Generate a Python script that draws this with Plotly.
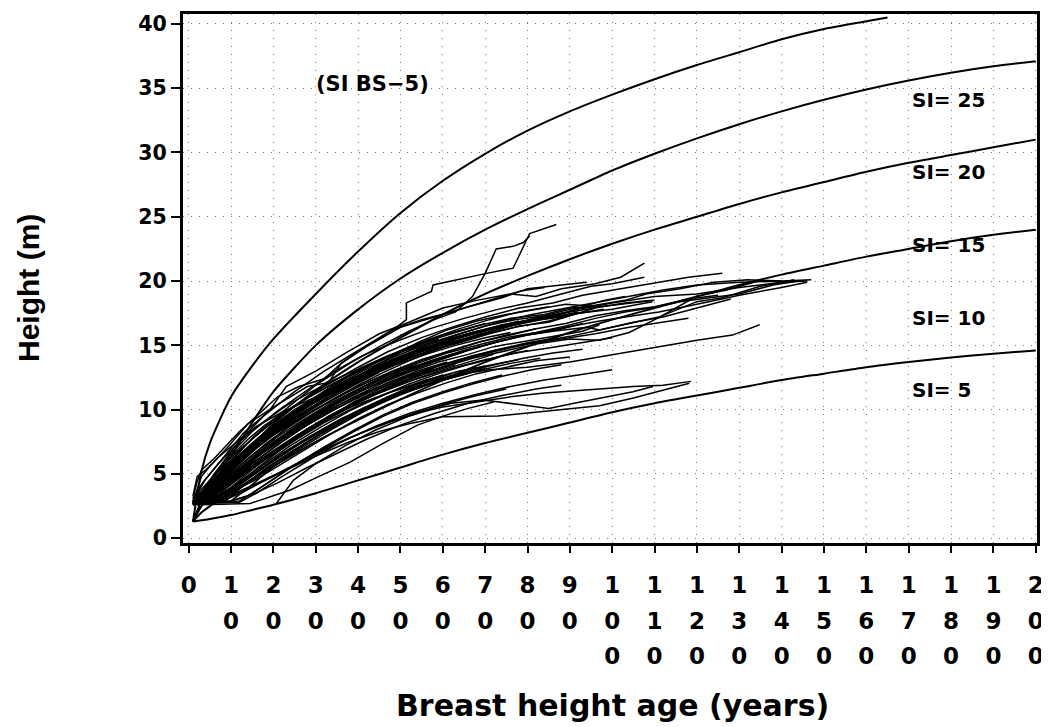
import plotly.graph_objects as go

# ---------------- data ----------------
si_age = [1, 3, 5, 10, 15, 20, 30, 40, 50, 60, 70, 80, 90, 100, 110, 120, 130, 140, 150, 160, 170, 180, 190, 200]
si5_h = [1.3, 1.4, 1.5, 1.8, 2.2, 2.6, 3.5, 4.5, 5.5, 6.5, 7.4, 8.2, 9.0, 9.8, 10.5, 11.1, 11.7, 12.3, 12.8, 13.3, 13.7, 14.05, 14.35, 14.6]
si10_h = [1.3, 2.0, 2.5, 3.6, 4.6, 5.6, 7.5, 9.2, 10.8, 12.3, 13.7, 14.9, 16.0, 17.0, 17.9, 18.8, 19.7, 20.5, 21.2, 21.9, 22.5, 23.1, 23.6, 24.0]
si15_h = [1.3, 2.5, 3.4, 5.4, 7.2, 8.9, 11.5, 13.7, 15.6, 17.4, 19.0, 20.4, 21.7, 22.9, 24.0, 25.0, 26.0, 26.9, 27.7, 28.5, 29.2, 29.8, 30.4, 31.0]
si20_h = [1.3, 2.9, 4.0, 6.4, 9.0, 11.4, 15.0, 17.8, 20.2, 22.2, 24.0, 25.6, 27.1, 28.6, 29.9, 31.1, 32.2, 33.2, 34.1, 34.9, 35.6, 36.2, 36.7, 37.1]
si25_age = [1, 3, 5, 10, 15, 20, 30, 40, 50, 60, 70, 80, 90, 100, 110, 120, 130, 140, 150, 160, 165]
si25_h = [1.3, 5.2, 7.4, 11.0, 13.4, 15.5, 19.0, 22.3, 25.3, 27.8, 29.9, 31.7, 33.2, 34.5, 35.7, 36.8, 37.8, 38.8, 39.6, 40.2, 40.5]

si_labels = ["SI= 25", "SI= 20", "SI= 15", "SI= 10", "SI= 5"]
si_label_y = [34.1, 28.45, 22.8, 17.1, 11.5]
si_label_x = 170.4

x_tick_vals = [0, 10, 20, 30, 40, 50, 60, 70, 80, 90, 100, 110, 120, 130, 140, 150, 160, 170, 180, 190, 200]
x_tick_labels = ["0", "10", "20", "30", "40", "50", "60", "70", "80", "90", "100",
                 "110", "120", "130", "140", "150", "160", "170", "180", "190", "200"]
y_tick_vals = [0, 5, 10, 15, 20, 25, 30, 35, 40]

# stem analysis trees: (breast height age, height)
tree01 = [(1,3.1),(2,4.4),(3,5.3),(6,6.2),(8,6.9),(12,8.3),(16,9.5),(21,11.0),(26,11.8),(32,12.4),(36,13.6),(42,15.0),(48,16.2),(55,17.0),(62,17.6),(70,18.4),(78,19.2),(84,19.5)]
tree02 = [(1,2.8),(3,4.8),(5,5.6),(9,7.0),(14,8.9),(20,10.2),(28,11.8),(33,12.1),(36,13.6),(42,14.9),(50,16.4),(58,17.2),(66,18.0),(74,18.7),(80,19.4),(88,19.7),(94,19.9)]
tree03 = [(1,2.9),(4,4.6),(8,6.2),(13,8.2),(19,9.9),(23,11.8),(30,13.0),(37,14.4),(45,15.9),(52,16.8),(60,17.9),(68,18.5),(76,19.0),(82,18.8),(88,19.4),(96,19.8),(102,20.3),(107.6,21.4)]
tree04 = [(2,3.0),(5,4.4),(10,6.6),(15,8.3),(21,9.9),(27,11.3),(34,12.9),(41,14.2),(49,15.3),(57,16.3),(65,17.1),(73,17.8),(80,18.3),(88,19.0),(95,19.6),(100,19.8),(107.6,20.3)]
tree05 = [(2,3.0),(6,5.0),(12,7.6),(18,9.6),(25,11.4),(32,13.0),(40,14.6),(47,15.9),(51.4,17.0),(51.4,18.3),(57.3,19.2),(57.7,19.7),(70.3,20.6),(76.6,21.0),(80.5,23.7),(86.8,24.4)]
tree06 = [(2,2.8),(8,5.2),(15,7.8),(22,9.8),(30,11.9),(38,13.6),(45,14.9),(52,16.1),(58,17.0),(63,17.6),(67,18.8),(70,20.6),(72.6,22.5),(76.6,22.7),(79,23.0),(80.5,23.5)]
tree07 = [(1,2.7),(3,3.6),(7,5.0),(12,6.8),(18,8.6),(25,10.3),(32,11.8),(40,13.3),(47,14.5),(55,15.6),(62,16.4),(70,17.2),(78,17.9),(86,18.3),(93,18.9),(100,19.3),(108,19.7),(118,20.3),(126,20.6)]
tree08 = [(1,2.7),(4,3.4),(8,4.9),(13,6.6),(19,8.3),(26,9.9),(33,11.4),(41,12.8),(49,14.0),(57,15.1),(65,16.0),(73,16.8),(81,17.4),(89,17.9),(97,18.4),(105,18.9),(112,19.3),(120,19.7),(130,19.9),(140,20.0),(147,20.1)]
tree09 = [(2,2.9),(6,4.2),(10,5.6),(16,7.5),(22,9.2),(29,10.8),(36,12.3),(44,13.7),(52,14.9),(60,15.8),(68,16.5),(76,17.1),(84,17.4),(90,17.9),(97,18.0),(104,18.3),(110,18.5)]
tree10 = [(1,2.6),(5,3.7),(10,5.3),(15,6.8),(21,8.6),(28,10.2),(35,11.6),(43,13.0),(51,14.1),(59,15.0),(67,15.9),(75,16.6),(84,17.2),(92,17.8),(100,18.3),(110,18.8),(120,19.0),(130,19.5),(140,19.9),(146,20.0)]
tree11 = [(2,2.8),(7,4.6),(13,6.5),(20,8.4),(27,10.1),(34,11.5),(42,12.8),(50,13.9),(58,14.9),(66,15.6),(74,16.3),(80,16.9),(87,17.3),(92,17.9),(98,18.5),(103,18.8)]
tree12 = [(1,2.7),(6,3.8),(11,5.6),(17,7.4),(23,9.0),(30,10.4),(37,11.8),(45,13.1),(53,14.1),(61,15.0),(69,15.8),(77,16.4),(85,16.9),(92,17.5),(100,17.8),(109.5,18.4)]
tree13 = [(1,2.7),(5,3.2),(9,4.5),(14,5.9),(20,7.4),(27,8.9),(34,10.3),(41,11.5),(49,12.6),(57,13.6),(65,14.5),(73,15.3),(81,15.9),(89,16.4),(97,16.9),(105,17.3),(111,17.6),(120,18.2),(130,18.9),(140,19.5),(146,19.9)]
tree14 = [(2,2.8),(6,3.7),(11,5.0),(17,6.6),(24,8.3),(31,9.8),(38,11.0),(46,12.3),(54,13.4),(62,14.3),(70,15.0),(78,15.7),(86,16.1),(94,16.4),(97,16.2),(105,16.8),(112,17.2),(120,17.9),(128,18.6)]
tree15 = [(1,2.6),(4,2.9),(9,4.1),(15,5.8),(21,7.3),(28,8.8),(35,10.1),(43,11.4),(51,12.5),(59,13.4),(67,14.2),(75,14.8),(83,15.3),(90,15.7),(97,16.2),(105,16.8),(111,17.2),(120,18.4),(126,18.7),(135,19.6),(143,20.1)]
tree16 = [(2,2.7),(8,3.4),(13,4.8),(19,6.4),(26,8.0),(33,9.5),(40,10.7),(48,11.9),(56,12.9),(64,13.8),(72,14.5),(80,15.1),(88,15.5),(96,15.9),(104,16.4),(112,16.8),(118,17.1)]
tree17 = [(1,2.7),(7,3.6),(12,4.9),(18,6.2),(25,7.8),(32,9.2),(39,10.3),(47,11.3),(55,12.1),(63,12.7),(71,13.1),(80,13.3),(90,13.7),(97,14.1),(105,14.6),(112,15.0),(120,15.4),(128.4,15.8),(134.8,16.6)]
tree18 = [(2,2.9),(5,3.3),(10,4.3),(16,5.8),(23,7.4),(30,8.8),(37,10.1),(45,11.3),(53,12.3),(61,13.1),(69,13.8),(77,14.4),(85,14.8),(93,15.2),(100,15.6)]
tree19 = [(1,2.7),(10,2.9),(14,3.9),(19,5.3),(25,6.8),(32,8.3),(39,9.6),(47,10.8),(55,11.8),(63,12.7),(71,13.4),(79,14.0),(86,14.4),(93,14.7)]
tree20 = [(1,2.8),(4,3.2),(8,4.3),(13,5.6),(19,7.1),(26,8.6),(33,10.0),(40,11.1),(48,12.2),(56,13.1),(64,13.9),(72,14.6),(80,15.2),(87,15.6)]
tree21 = [(2,2.7),(6,3.1),(11,4.0),(16,5.2),(22,6.6),(29,8.0),(36,9.3),(44,10.5),(52,11.5),(60,12.3),(68,13.0),(76,13.6),(83,14.0)]
tree22 = [(1,2.6),(3,2.7),(7,3.4),(12,4.7),(18,6.1),(25,7.6),(32,9.0),(40,10.3),(48,11.4),(56,12.3),(64,13.0),(72,13.5),(78,13.9)]
tree23 = [(1,2.7),(12,2.8),(16,3.5),(22,4.8),(29,6.2),(36,7.5),(44,8.7),(52,9.7),(60,10.5),(68,11.2),(76,11.8),(84,12.3),(92,12.7),(100,13.1)]
tree24 = [(2,2.6),(8,2.9),(13,3.6),(19,4.7),(26,5.9),(33,7.1),(40,8.1),(48,9.1),(56,9.9),(60,10.2),(68,10.6),(76,11.0),(84,11.3),(92,11.5),(97,11.6),(105,11.8),(112,11.9),(118.6,12.2)]
tree25 = [(2,2.7),(9,3.1),(15,4.0),(22,5.1),(30,6.4),(38,7.5),(45,8.3),(52,8.9),(60,9.45),(73,9.5),(87,10.0),(97,10.3),(105,10.9),(112,11.5),(118.2,12.05)]
tree26 = [(1,2.7),(6,2.9),(11,3.5),(17,4.4),(24,5.5),(31,6.7),(38,7.8),(46,8.9),(54,9.8),(62,10.5),(69.5,10.75),(78,10.4),(85,10.1),(91,10.5),(97,10.9),(104.9,11.4),(109.6,11.8)]
tree27 = [(2,2.8),(10,2.9),(15,3.4),(21,4.3),(28,5.5),(35,6.6),(42,7.7),(50,8.8),(58,9.7),(66,10.5),(74,11.1),(82,11.6),(88,11.9)]
tree28 = [(20.7,2.7),(24.7,4.5),(30,5.8),(37,7.2),(44,8.4),(52,9.5),(60,10.4),(68,11.1),(75,11.6)]
tree29 = [(3,2.6),(14.5,2.7),(24,3.75),(30,4.7),(38,5.9),(46,7.4),(54,8.8),(60,9.5),(66,10.1),(72,10.6)]
tree30 = [(1,2.7),(5,3.5),(10,4.9),(15,6.3),(21,7.9),(27,9.2),(34,10.6),(40,11.6),(47,12.7),(53,13.4)]
tree31 = [(1,2.8),(4,3.6),(9,5.2),(14,6.6),(20,8.1),(26,9.4),(32,10.6),(39,11.9),(45,12.9)]
tree32 = [(2,2.7),(6,3.4),(11,4.6),(16,5.9),(22,7.2),(28,8.5),(35,9.8),(42,11.0),(49,12.0),(56,12.8),(63,13.5)]
tree33 = [(1,2.6),(3,2.9),(8,4.0),(13,5.2),(19,6.6),(25,7.9),(31,9.1),(38,10.3),(44,11.2),(51,12.1),(58,12.9),(65,13.6),(72,14.3)]
tree34 = [(1,2.7),(9,3.0),(13,4.1),(18,5.4),(24,6.7),(30,7.9),(37,9.2),(44,10.3),(51,11.3),(58,12.1),(66,12.8)]
tree35 = [(2,2.9),(5,3.8),(10,5.5),(16,7.2),(22,8.7),(28,10.0),(35,11.3),(42,12.5),(49,13.5),(56,14.3),(63,15.0),(70,15.6),(76,16.0)]
tree36 = [(1,2.7),(4,3.7),(8,5.1),(13,6.8),(19,8.5),(25,9.9),(32,11.3),(39,12.5),(46,13.6),(53,14.5),(60,15.3),(67,16.0),(74,16.6),(81,17.0),(88,17.4)]
tree37 = [(1,3.0),(3,4.2),(7,5.8),(12,7.5),(17,8.9),(23,10.3),(29,11.4),(35,12.4),(41,13.3),(47,14.2),(53,14.9),(59,15.5)]
tree38 = [(2,2.7),(7,3.9),(12,5.3),(18,6.9),(24,8.3),(30,9.6),(37,10.9),(44,12.1),(51,13.1),(58,13.9),(65,14.6),(72,15.2),(80,15.8),(87,16.2),(93,16.7)]
tree39 = [(1,2.8),(5,3.2),(9,4.2),(14,5.6),(20,7.0),(26,8.4),(33,9.8),(40,11.0),(47,12.1),(54,13.0),(61,13.7)]
tree40 = [(1,2.7),(8,3.0),(12,3.9),(17,5.1),(23,6.4),(29,7.7),(36,9.0),(42,10.1),(49,11.1),(56,11.9),(63,12.6),(70,13.2)]
tree41 = [(2,2.6),(6,3.3),(11,4.5),(17,6.0),(23,7.4),(29,8.7),(35,9.8),(42,10.9),(48,11.8)]
tree42 = [(1,2.7),(5,3.9),(9,5.4),(14,7.0),(19,8.4),(25,9.8),(31,11.0),(37,12.1),(43,13.1),(50,14.1),(57,14.9),(64,15.6),(71,16.2),(78,16.7),(85,17.1),(91,17.4),(98,17.8)]
tree43 = [(1,2.6),(4,3.0),(8,3.8),(13,5.0),(19,6.4),(25,7.7),(32,9.1),(39,10.4),(46,11.5),(53,12.5),(60,13.3),(67,14.0),(75,14.6),(82,15.1),(90,15.5),(97,15.4),(104,16.0),(111.2,17.2),(119.8,18.8),(127,19.3),(135.5,20.1)]
tree44 = [(2,2.8),(6,4.0),(11,5.7),(17,7.6),(23,9.2),(29,10.6),(35,11.9),(41,13.0),(47,13.9),(53,14.7),(60,15.4),(67,16.0),(74,16.5)]
tree45 = [(1,2.7),(12,2.9),(15,3.5),(20,4.6),(26,5.9),(32,7.1),(39,8.4),(46,9.6),(53,10.6),(60,11.4),(67,12.1),(74,12.7)]
tree46 = [(3,2.7),(10,3.4),(14,4.3),(20,5.6),(27,7.1),(34,8.5),(41,9.8),(48,10.9),(55,11.9)]
tree47 = [(1,2.9),(3,3.8),(6,4.9),(11,6.6),(16,8.0),(22,9.6),(28,10.9),(34,12.0),(40,13.1),(46,14.0),(52,14.7),(58,15.3),(64,15.9),(70,16.5),(77,17.0),(84,17.3),(90,17.8),(97,18.2),(103,18.5),(108,19.0),(116,19.4),(124,19.9),(132,20.1),(140,20.0)]
tree48 = [(2,3.0),(5,3.9),(9,5.1),(14,6.5),(20,8.0),(26,9.3),(33,10.6),(40,11.8),(47,12.8),(54,13.7),(61,14.5),(68,15.2),(75,15.8),(82,16.3),(89,16.7),(96,17.3),(103,17.7),(110,18.0),(118,18.6),(125,18.9)]
tree49 = [(1,2.7),(7,3.3),(12,4.4),(18,5.8),(24,7.2),(31,8.6),(38,9.9),(45,11.0),(52,12.0),(59,12.8),(66,13.5),(73,14.1),(80,14.6)]
tree50 = [(1,2.6),(5,3.0),(10,3.9),(15,5.0),(21,6.3),(27,7.6),(34,8.9),(41,10.1),(48,11.1),(55,12.0),(62,12.8)]
tree51 = [(2,2.7),(4,3.3),(8,4.6),(13,6.1),(18,7.6),(24,9.0),(30,10.3),(36,11.5),(42,12.6),(48,13.6),(55,14.5),(62,15.2),(69,15.9),(76,16.5),(83,17.0),(90,17.3),(96,17.9)]
tree52 = [(1,2.8),(3,3.3),(7,4.5),(12,6.0),(18,7.6),(24,9.1),(31,10.6),(38,11.9),(45,13.0),(52,14.0),(59,14.8),(66,15.5)]
tree53 = [(1,3.3),(2,4.8),(4,5.3),(7,6.3),(11,7.4),(16,8.7),(22,9.8),(28,10.7),(34,11.5),(40,12.6),(47,13.9),(54,15.2),(61,16.2),(68,16.9),(75,17.4),(82,17.8),(89,18.2),(97,18.0)]
tree54 = [(2,2.7),(9,2.8),(14,3.3),(19,4.4),(25,5.7),(32,7.0),(39,8.3),(46,9.5),(53,10.5),(60,11.3),(67,12.0),(74,12.6),(81,13.1),(88,13.5)]
tree55 = [(1,2.7),(6,3.5),(11,4.8),(16,6.3),(21,7.7),(27,9.1),(33,10.3),(40,11.6),(47,12.7),(54,13.6),(61,14.4),(68,15.0),(75,15.6),(82,16.0),(89,16.5),(96,17.1),(103,17.6),(109,17.9),(116,18.4),(123,18.7),(130,19.0),(138,19.7),(144,20.0)]
tree56 = [(1,2.8),(4,3.2),(9,4.4),(14,5.8),(20,7.2),(26,8.5),(33,9.9),(39,11.0),(46,12.1),(52,12.9),(59,13.7),(66,14.3),(72,14.9),(79,15.3),(86,15.7),(93,16.1),(97,16.6)]
tree57 = [(2,2.9),(6,4.1),(10,5.5),(15,7.1),(20,8.5),(26,10.0),(32,11.4),(38,12.6),(44,13.6),(50,14.5),(57,15.5),(64,16.3),(71,17.0),(78,17.6),(85,18.0)]
tree58 = [(1,2.7),(3,3.5),(6,4.5),(10,5.9),(15,7.3),(21,8.8),(27,10.1),(33,11.2),(39,12.2),(45,13.1),(51,13.9),(57,14.6),(64,15.2),(71,15.9),(78,16.5),(85,16.8),(90,17.3)]
tree59 = [(1,2.8),(5,3.9),(10,5.6),(16,7.3),(22,8.9),(29,10.4),(36,11.7),(43,13.0),(51,14.2),(59,15.1),(67,16.0),(75,16.6),(83,17.2),(90,17.6),(97,18.0),(103,18.3),(109.5,18.5)]
tree60 = [(1,2.7),(4,3.1),(7,4.0),(11,5.1),(15,6.2),(20,7.5),(25,8.6),(30,9.6),(36,10.8),(42,11.9),(48,12.8),(54,13.6)]
tree61 = [(2,2.8),(5,3.6),(9,4.8),(13,5.9),(18,7.3),(23,8.5),(28,9.6),(34,10.8),(40,11.9),(46,12.9),(52,13.8),(58,14.6),(65,15.4),(70,15.9)]
tree62 = [(1,2.6),(6,3.0),(10,3.7),(14,4.6),(19,5.8),(24,6.9),(30,8.1),(36,9.2),(43,10.3),(50,11.3),(57,12.1),(64,12.9),(70,13.4)]
tree63 = [(1,2.7),(3,3.1),(6,3.9),(10,5.0),(14,6.2),(19,7.5),(24,8.8),(30,10.0),(36,11.1),(42,12.1),(48,13.0),(55,13.9),(62,14.6),(69,15.3),(76,15.8),(82,16.3)]
tree64 = [(2,2.7),(7,3.2),(11,4.1),(16,5.4),(21,6.7),(27,8.1),(33,9.4),(39,10.6),(45,11.6),(51,12.4),(58,13.2)]
tree65 = [(1,2.9),(4,3.9),(7,4.9),(11,6.2),(15,7.4),(20,8.8),(25,10.0),(30,11.0),(36,12.0),(42,13.0),(48,13.9),(54,14.6),(60,15.2),(67,15.9),(73,16.4),(80,16.9),(86,17.2),(92,17.6)]
tree66 = [(1,2.7),(2,2.9),(5,3.3),(9,4.3),(13,5.4),(18,6.8),(23,8.0),(29,9.3),(35,10.5),(41,11.5),(47,12.4),(53,13.2),(59,13.9),(65,14.5)]
tree67 = [(2,2.6),(5,2.9),(9,3.6),(14,4.7),(20,6.0),(26,7.3),(33,8.6),(40,9.9),(47,11.0),(54,12.0),(60,12.7)]
tree68 = [(1,2.8),(3,3.5),(6,4.6),(10,5.9),(14,7.0),(19,8.3),(24,9.5),(29,10.5),(34,11.4),(40,12.4),(46,13.4),(52,14.2),(58,15.0),(64,15.7),(71,16.3),(78,16.9)]
tree69 = [(1,2.7),(5,3.0),(10,3.6),(15,4.4),(20,5.4),(26,6.6),(33,8.0),(40,9.3),(47,10.4),(54,11.3),(61,12.1),(68,12.8),(75,13.3),(82,13.8),(90,14.1)]
tree70 = [(2,3.1),(4,4.0),(7,5.2),(10,6.4),(14,7.7),(18,8.8),(23,9.9),(28,10.9),(34,12.0),(40,13.0),(46,14.0),(52,14.8),(58,15.5),(64,16.1),(70,16.7)]

trees = [tree01, tree02, tree03, tree04, tree05, tree06, tree07, tree08, tree09, tree10,
         tree11, tree12, tree13, tree14, tree15, tree16, tree17, tree18, tree19, tree20,
         tree21, tree22, tree23, tree24, tree25, tree26, tree27, tree28, tree29, tree30,
         tree31, tree32, tree33, tree34, tree35, tree36, tree37, tree38, tree39, tree40,
         tree41, tree42, tree43, tree44, tree45, tree46, tree47, tree48, tree49, tree50,
         tree51, tree52, tree53, tree54, tree55, tree56, tree57, tree58, tree59, tree60,
         tree61, tree62, tree63, tree64, tree65, tree66, tree67, tree68, tree69, tree70]

# ---------------- figure ----------------
FONT = "DejaVu Sans"
fig = go.Figure()

stem_x, stem_y = [], []
for t in trees:
    for a, h in t:
        stem_x.append(a)
        stem_y.append(h)
    stem_x.append(None)
    stem_y.append(None)
fig.add_trace(go.Scatter(x=stem_x, y=stem_y, mode="lines",
                         line=dict(color="black", width=1.5), hoverinfo="skip",
                         showlegend=False, connectgaps=False))

for ages, hs in [(si_age, si5_h), (si_age, si10_h), (si_age, si15_h), (si_age, si20_h), (si25_age, si25_h)]:
    fig.add_trace(go.Scatter(x=ages, y=hs, mode="lines",
                             line=dict(color="black", width=2, shape="spline", smoothing=0.7),
                             showlegend=False, hoverinfo="skip"))

for lab, yy in zip(si_labels, si_label_y):
    fig.add_annotation(x=si_label_x, y=yy, xref="x", yref="y", text=lab, showarrow=False,
                       xanchor="left", yanchor="middle",
                       font=dict(family=FONT, size=20, color="black", weight="bold"))

fig.add_annotation(x=43.5, y=35.3, xref="x", yref="y", text="(SI BS\u22125)", showarrow=False,
                   xanchor="center", yanchor="middle",
                   font=dict(family=FONT, size=21, color="black", weight="bold"))

# plot area (figure px): x 175..1029, y 6..535  (page has an 8px body margin)
PL, PR, PT, PB = 175, 1029, 6, 535
PW, PH = PR - PL, PB - PT

fig.add_annotation(x=(604 - PL) / PW, y=(PB - 697) / PH, xref="paper", yref="paper",
                   text="Breast height age (years)", showarrow=False,
                   xanchor="center", yanchor="middle",
                   font=dict(family=FONT, size=30, color="black", weight="bold"))
fig.add_annotation(x=(20 - PL) / PW, y=(PB - 280) / PH, xref="paper", yref="paper",
                   text="Height (m)", showarrow=False, textangle=-90,
                   xanchor="center", yanchor="middle",
                   font=dict(family="Liberation Sans", size=30, color="black", weight="bold"))

x_tick_text = ["<br>".join("<span style='font-size:23px'>%s</span>" % ch for ch in lab)
               for lab in x_tick_labels]

fig.update_xaxes(range=[-1.35, 200.3], tickmode="array", tickvals=x_tick_vals, ticktext=x_tick_text,
                 ticks="outside", ticklen=7, tickwidth=1.5, tickcolor="black",
                 tickfont=dict(family=FONT, size=27, color="black", weight="bold"),
                 ticklabelstandoff=8,
                 showline=True, linecolor="black", linewidth=3, mirror=True,
                 showgrid=True, gridcolor="#777", gridwidth=1, griddash="1px,7px",
                 zeroline=False, tickangle=0)
fig.update_yaxes(range=[-0.37, 40.77], tickmode="array", tickvals=y_tick_vals,
                 ticks="outside", ticklen=9, tickwidth=1.5, tickcolor="black",
                 tickfont=dict(family=FONT, size=20.5, color="black", weight="bold"),
                 showline=True, linecolor="black", linewidth=3, mirror=True,
                 showgrid=True, gridcolor="#777", gridwidth=1, griddash="1px,7px",
                 zeroline=False)

fig.update_layout(width=1041, height=719,
                  margin=dict(l=PL, r=1041 - PR, t=PT, b=719 - PB, autoexpand=False),
                  paper_bgcolor="white", plot_bgcolor="white", showlegend=False)

fig.write_html("out.html")
